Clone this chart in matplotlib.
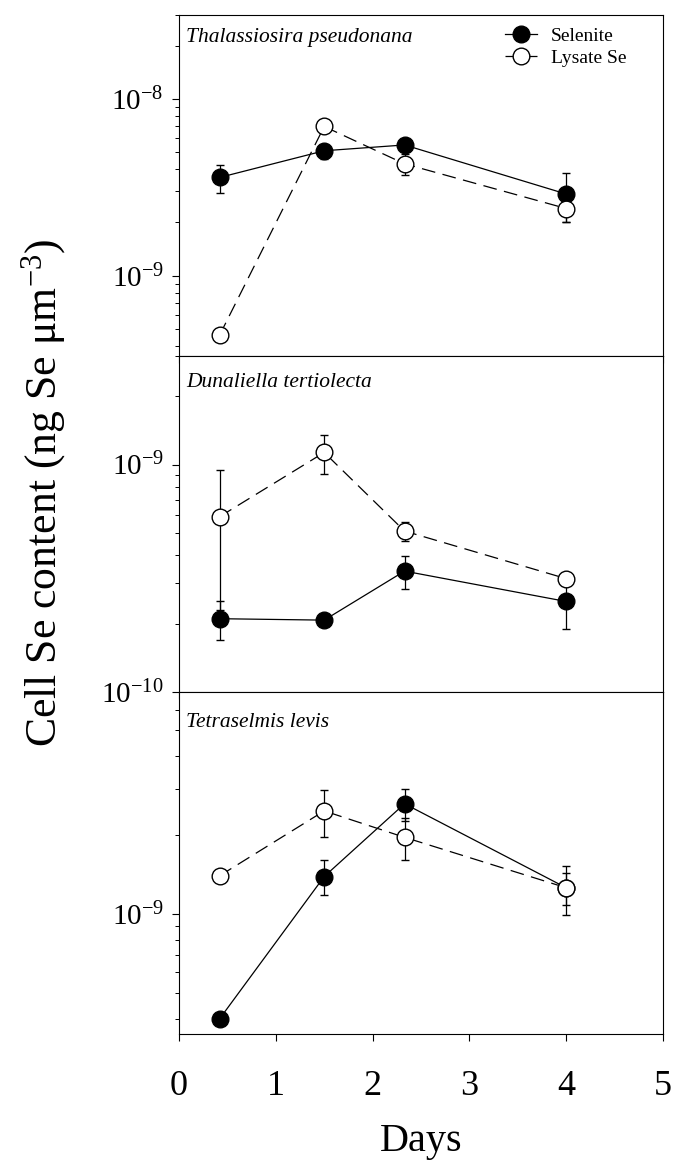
import matplotlib
matplotlib.use("Agg")
import matplotlib.pyplot as plt
from matplotlib.ticker import FixedLocator, LogLocator, NullFormatter, FuncFormatter
import numpy as np

plt.rcParams["font.family"] = ["Liberation Serif", "DejaVu Serif"]
plt.rcParams["mathtext.fontset"] = "custom"
plt.rcParams["mathtext.rm"] = "Liberation Serif"
plt.rcParams["mathtext.it"] = "Liberation Serif:italic"

# sampling times (days)
days = [0.42, 1.5, 2.33, 4.0]

# cell Se content, ng Se per um^3 (mean, SD)
thal_selenite = [3.6e-9, 5.1e-9, 5.5e-9, 2.9e-9]
thal_selenite_sd = [0.65e-9, 0.5e-9, 0.3e-9, 0.9e-9]
thal_lysate = [4.6e-10, 7.0e-9, 4.3e-9, 2.4e-9]
thal_lysate_sd = [0.0, 0.3e-9, 0.6e-9, 0.4e-9]

duna_selenite = [2.1e-10, 2.07e-10, 3.4e-10, 2.5e-10]
duna_selenite_sd = [0.4e-10, 0.0, 0.55e-10, 0.6e-10]
duna_lysate = [5.9e-10, 1.13e-9, 5.1e-10, 3.15e-10]
duna_lysate_sd = [3.6e-10, 0.22e-9, 0.5e-10, 0.15e-10]

tetra_selenite = [4.0e-10, 1.39e-9, 2.63e-9, 1.26e-9]
tetra_selenite_sd = [0.0, 0.21e-9, 0.37e-9, 0.18e-9]
tetra_lysate = [1.40e-9, 2.47e-9, 1.96e-9, 1.26e-9]
tetra_lysate_sd = [0.0, 0.5e-9, 0.36e-9, 0.27e-9]

species = ["Thalassiosira pseudonana", "Dunaliella tertiolecta", "Tetraselmis levis"]
ylims = [(3.5e-10, 3e-8), (1e-10, 3e-9), (3.5e-10, 7e-9)]
decades = [[1e-9, 1e-8], [1e-10, 1e-9], [1e-9]]
name_y = [0.935, 0.92, 0.91]

panels = [
    (thal_selenite, thal_selenite_sd, thal_lysate, thal_lysate_sd),
    (duna_selenite, duna_selenite_sd, duna_lysate, duna_lysate_sd),
    (tetra_selenite, tetra_selenite_sd, tetra_lysate, tetra_lysate_sd),
]


def decade_label(v, pos):
    return r"$10^{%d}$" % int(round(np.log10(v)))


fig = plt.figure(figsize=(6.78, 11.68), dpi=100)
left, width = 179 / 678, 484 / 678
edges = [15, 356, 692, 1034]

axes = []
for i in range(3):
    top = 1 - edges[i] / 1168
    bottom = 1 - edges[i + 1] / 1168
    axes.append(fig.add_axes([left, bottom, width, top - bottom]))

handles = None
for i, ax in enumerate(axes):
    sel, sel_sd, lys, lys_sd = panels[i]
    c_sel = ax.errorbar(days, sel, yerr=sel_sd, color="black", lw=0.9, ls="-",
                        marker="o", ms=12, mfc="black", mec="black", mew=1,
                        elinewidth=0.9, capsize=3, capthick=0.9, zorder=3)
    c_lys = ax.errorbar(days, lys, yerr=lys_sd, color="black", lw=0.9, ls=(0, (11, 6)),
                        marker="o", ms=12, mfc="white", mec="black", mew=1,
                        elinewidth=0.9, capsize=3, capthick=0.9, zorder=3)
    if handles is None:
        handles = [c_sel[0], c_lys[0]]

    ax.set_yscale("log")
    ax.set_ylim(*ylims[i])
    ax.set_xlim(0, 5)
    ax.yaxis.set_major_locator(FixedLocator(decades[i]))
    ax.yaxis.set_major_formatter(FuncFormatter(decade_label))
    ax.yaxis.set_minor_locator(LogLocator(base=10, subs=np.arange(2, 10)))
    ax.yaxis.set_minor_formatter(NullFormatter())
    ax.tick_params(axis="y", which="major", direction="out", length=5, width=0.8,
                   labelsize=21, pad=6)
    ax.tick_params(axis="y", which="minor", direction="out", length=3, width=0.7)
    ax.set_xticks(range(6))
    ax.tick_params(axis="x", direction="out", length=5, width=0.8, labelsize=26, pad=21)
    if i < 2:
        ax.tick_params(axis="x", labelbottom=False)
    for s in ax.spines.values():
        s.set_linewidth(0.8)

    ax.text(0.015, name_y[i], species[i], transform=ax.transAxes, fontsize=15.5,
            style="italic", ha="left", va="center")

axes[0].legend(handles, ["Selenite", "Lysate Se"], loc="upper left",
               bbox_to_anchor=(0.674, 0.965), frameon=False, fontsize=14,
               handlelength=1.65, handletextpad=0.7, borderpad=0,
               borderaxespad=0, labelspacing=0.25)

fig.text(44 / 678, 1 - 493 / 1168, r"Cell Se content (ng Se μm$^{-3}$)",
         rotation=90, ha="center", va="center", fontsize=31.5)
fig.text(421 / 678, 1 - 1141 / 1168, "Days", ha="center", va="center", fontsize=29)

fig.savefig("out.png", dpi=100)
